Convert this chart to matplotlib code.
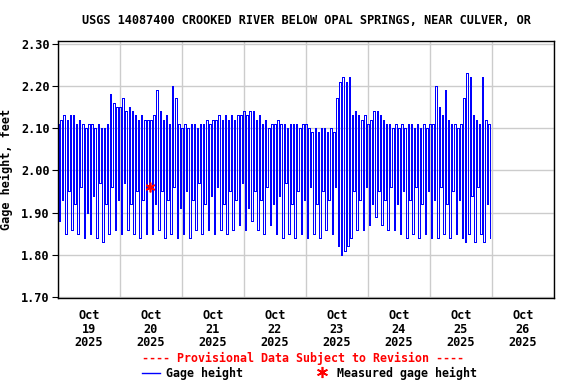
import numpy as np
import pandas as pd
import matplotlib
matplotlib.use("Agg")
import matplotlib.pyplot as plt
import matplotlib.dates as mdates

# Gage height, one peak and one trough per ~72 min cycle, starting Oct 19 00:00
highs = [
    2.11, 2.12, 2.13, 2.12, 2.13, 2.13, 2.11, 2.12, 2.11, 2.10,
    2.11, 2.11, 2.10, 2.11, 2.10, 2.10, 2.11, 2.18, 2.16, 2.15,
    2.15, 2.17, 2.14, 2.15, 2.14, 2.13, 2.12, 2.13, 2.12, 2.12,
    2.12, 2.13, 2.19, 2.14, 2.12, 2.13, 2.11, 2.20, 2.17, 2.11,
    2.10, 2.11, 2.10, 2.11, 2.11, 2.10, 2.11, 2.11, 2.12, 2.11,
    2.12, 2.12, 2.13, 2.12, 2.13, 2.12, 2.13, 2.12, 2.13, 2.13,
    2.14, 2.13, 2.14, 2.14, 2.12, 2.13, 2.11, 2.12, 2.10, 2.11,
    2.11, 2.12, 2.11, 2.11, 2.10, 2.11, 2.11, 2.11, 2.10, 2.11,
    2.11, 2.10, 2.09, 2.10, 2.09, 2.10, 2.10, 2.09, 2.10, 2.09,
    2.17, 2.21, 2.22, 2.21, 2.22, 2.13, 2.14, 2.13, 2.12, 2.13,
    2.11, 2.12, 2.14, 2.14, 2.13, 2.12, 2.11, 2.11, 2.10, 2.11,
    2.10, 2.11, 2.10, 2.11, 2.11, 2.10, 2.11, 2.10, 2.11, 2.10,
    2.11, 2.11, 2.20, 2.15, 2.13, 2.19, 2.12, 2.11, 2.11, 2.10,
    2.11, 2.17, 2.23, 2.22, 2.13, 2.12, 2.11, 2.22, 2.12, 2.11,
]
lows = [
    1.88, 1.93, 1.85, 1.95, 1.86, 1.92, 1.85, 1.96, 1.84, 1.90,
    1.85, 1.94, 1.84, 1.97, 1.83, 1.92, 1.85, 1.96, 1.86, 1.93,
    1.85, 1.97, 1.86, 1.92, 1.85, 1.95, 1.84, 1.93, 1.85, 1.96,
    1.85, 1.92, 1.86, 1.95, 1.84, 1.93, 1.85, 1.96, 1.84, 1.91,
    1.85, 1.95, 1.84, 1.93, 1.86, 1.97, 1.85, 1.92, 1.86, 1.94,
    1.85, 1.96, 1.86, 1.92, 1.85, 1.95, 1.86, 1.93, 1.87, 1.97,
    1.86, 1.91, 1.88, 1.95, 1.86, 1.93, 1.85, 1.96, 1.87, 1.92,
    1.85, 1.94, 1.84, 1.97, 1.85, 1.92, 1.84, 1.95, 1.85, 1.93,
    1.84, 1.96, 1.85, 1.92, 1.84, 1.95, 1.86, 1.93, 1.85, 1.96,
    1.82, 1.80, 1.81, 1.82, 1.84, 1.95, 1.86, 1.93, 1.86, 1.96,
    1.87, 1.92, 1.89, 1.95, 1.87, 1.93, 1.86, 1.96, 1.86, 1.92,
    1.85, 1.95, 1.84, 1.93, 1.85, 1.96, 1.84, 1.92, 1.85, 1.95,
    1.84, 1.93, 1.84, 1.96, 1.85, 1.92, 1.84, 1.95, 1.85, 1.93,
    1.84, 1.83, 1.85, 1.94, 1.83, 1.96, 1.85, 1.83, 1.92, 1.84,
]
start = "2025-10-19 00:00"
measured_time = "2025-10-20 11:40"
measured_value = 1.96

# interleave peaks and troughs in time
t_high = pd.date_range(start, periods=len(highs), freq="72min")
t_low = t_high + pd.Timedelta(minutes=36)
times = np.empty(2 * len(highs), dtype="datetime64[ns]")
times[0::2] = t_high.values
times[1::2] = t_low.values
vals = np.empty(2 * len(highs))
vals[0::2] = highs
vals[1::2] = lows

mono = "DejaVu Sans Mono"
fig = plt.figure(figsize=(5.76, 3.84), dpi=100)
ax = fig.add_axes([58 / 576, 1 - 298 / 384, 496 / 576, 257 / 384])

ax.plot(times, vals, color="#0000ff", lw=0.72, antialiased=False,
        drawstyle="steps-mid")
ax.plot(pd.Timestamp(measured_time), measured_value, marker=(6, 2, 0),
        color="red", ms=7, mew=1.2, ls="none")

ax.set_xlim(pd.Timestamp("2025-10-19"), pd.Timestamp("2025-10-27"))
ax.set_ylim(1.698, 2.306)

ax.xaxis.set_major_locator(mdates.DayLocator())
ax.xaxis.set_major_formatter(plt.NullFormatter())
ax.xaxis.set_minor_locator(mdates.HourLocator(byhour=12))
ax.xaxis.set_minor_formatter(mdates.DateFormatter("Oct\n%d\n%Y"))
ax.tick_params(axis="x", which="minor", length=0, pad=8)
ax.tick_params(axis="x", which="major", length=0)
for lab in ax.xaxis.get_minorticklabels():
    lab.set_fontfamily(mono)
    lab.set_fontweight("bold")
    lab.set_fontsize(8.6)
    lab.set_linespacing(1.05)

ax.set_yticks(np.arange(1.70, 2.31, 0.10))
ax.yaxis.set_major_formatter(plt.FormatStrFormatter("%.2f"))
ax.tick_params(axis="y", which="major", length=4, direction="out", pad=2)
for lab in ax.get_yticklabels():
    lab.set_fontfamily(mono)
    lab.set_fontweight("bold")
    lab.set_fontsize(8.6)

ax.grid(True, which="major", color="#cccccc", lw=1)
ax.set_axisbelow(True)
for s in ax.spines.values():
    s.set_linewidth(1)
    s.set_color("black")

ax.set_ylabel("Gage height, feet", fontfamily=mono, fontweight="bold",
              fontsize=8.6, labelpad=6)
fig.text(306 / 576, 1 - 20 / 384,
         "USGS 14087400 CROOKED RIVER BELOW OPAL SPRINGS, NEAR CULVER, OR",
         ha="center", va="center", fontfamily=mono, fontweight="bold", fontsize=8.6)
fig.text(303 / 576, 1 - 358 / 384, "---- Provisional Data Subject to Revision ----",
         ha="center", va="center", color="red", fontfamily=mono,
         fontweight="bold", fontsize=8.4)

# legend row
fig.add_artist(plt.Line2D([142 / 576, 160 / 576], [1 - 373 / 384] * 2,
                          color="#0000ff", lw=1))
fig.text(166 / 576, 1 - 373 / 384, "Gage height", ha="left", va="center",
         fontfamily=mono, fontweight="bold", fontsize=8.4)
fig.add_artist(plt.Line2D([322 / 576], [1 - 372 / 384], marker=(6, 2, 0),
                          color="red", ms=8, mew=1.2))
fig.text(337 / 576, 1 - 373 / 384, "Measured gage height", ha="left", va="center",
         fontfamily=mono, fontweight="bold", fontsize=8.4)

fig.savefig("out.png", dpi=100)
